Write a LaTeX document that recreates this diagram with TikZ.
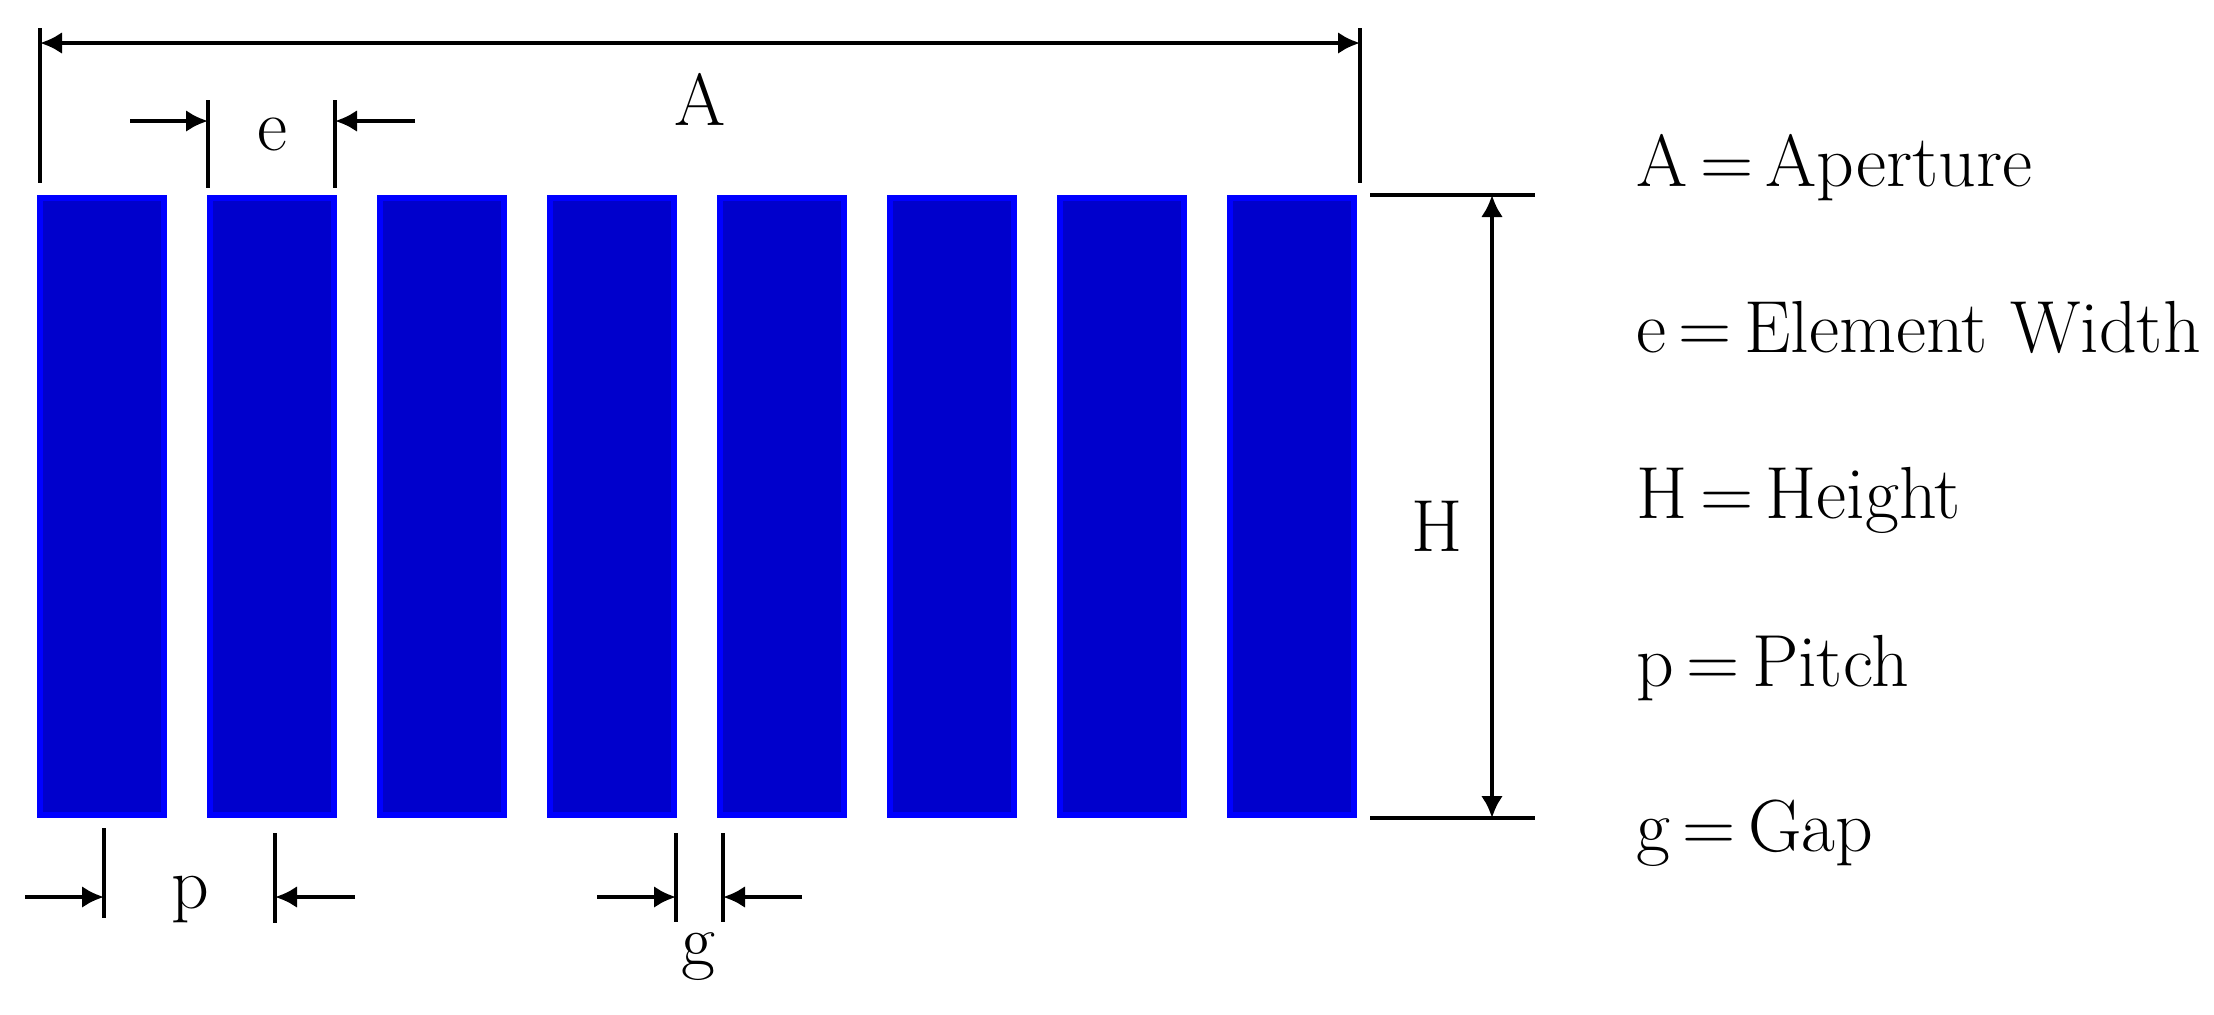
\documentclass[tikz,border=0pt]{standalone}
\usetikzlibrary{arrows.meta}
\definecolor{elemfill}{RGB}{0,0,204}
\definecolor{elemedge}{RGB}{0,0,255}
\tikzset{
  elem/.style={
    % The shape:
    shape=rectangle,inner sep=0pt,
    % The size:
    minimum width=1.24cm,minimum height=6.17cm,
    % The border and the filling:
    line width=0.6mm,draw=elemedge,fill=elemfill
  }}
\tikzset{
  ext/.style={line width=0.4mm},
  dim/.style={line width=0.45mm,-{Latex[length=2.2mm,width=2.2mm]}},
  dimboth/.style={line width=0.45mm,
    {Latex[length=2.2mm,width=2.2mm]}-{Latex[length=2.2mm,width=2.2mm]}},
  lbl/.style={inner sep=0pt,anchor=base,font=\fontsize{21}{25}\selectfont},
  keytext/.style={inner sep=0pt,anchor=base west,font=\fontsize{21}{25}\selectfont}}

\begin{document}
\begin{tikzpicture}[x=0.1mm,y=-0.1mm]
	\useasboundingbox (0,0) rectangle (2214,1014);
	% The elements
	\node[elem] (e1) at (102,506.5) {};
	\node[elem] (e2) at (272,506.5) {};
	\node[elem] (e3) at (442,506.5) {};
	\node[elem] (e4) at (612,506.5) {};
	\node[elem] (e5) at (782,506.5) {};
	\node[elem] (e6) at (952,506.5) {};
	\node[elem] (e7) at (1122,506.5) {};
	\node[elem] (e8) at (1292,506.5) {};
	% Aperture
	\coordinate (aT1) at (40,28);   \coordinate (aB1) at (40,183);
	\coordinate (aT2) at (1360,28); \coordinate (aB2) at (1360,183);
	\coordinate (aL) at (40,43);    \coordinate (aR) at (1360,43);
	\draw[ext] (aT1) -- (aB1);
	\draw[ext] (aT2) -- (aB2);
	\draw[dimboth] (aL) -- (aR);
	\node[lbl] (labA) at (700,125) {A};
	% Element width
	\coordinate (eT1) at (208,100); \coordinate (eB1) at (208,188);
	\coordinate (eT2) at (335,100); \coordinate (eB2) at (335,188);
	\coordinate (eO1) at (130,121); \coordinate (eI1) at (208,121);
	\coordinate (eO2) at (415,121); \coordinate (eI2) at (335,121);
	\draw[ext] (eT1) -- (eB1);
	\draw[ext] (eT2) -- (eB2);
	\draw[dim] (eO1) -- (eI1);
	\draw[dim] (eO2) -- (eI2);
	\node[lbl] (labe) at (272,150) {e};
	% Height
	\coordinate (hL1) at (1370,195); \coordinate (hR1) at (1535,195);
	\coordinate (hL2) at (1370,818); \coordinate (hR2) at (1535,818);
	\coordinate (hT) at (1492,195);  \coordinate (hB) at (1492,818);
	\draw[ext] (hL1) -- (hR1);
	\draw[ext] (hL2) -- (hR2);
	\draw[dimboth] (hT) -- (hB);
	\node[lbl] (labH) at (1437,551) {H};
	% Pitch
	\coordinate (pT1) at (104,828); \coordinate (pB1) at (104,918);
	\coordinate (pT2) at (275,833); \coordinate (pB2) at (275,923);
	\coordinate (pO1) at (25,897);  \coordinate (pI1) at (104,897);
	\coordinate (pO2) at (355,897); \coordinate (pI2) at (275,897);
	\draw[ext] (pT1) -- (pB1);
	\draw[ext] (pT2) -- (pB2);
	\draw[dim] (pO1) -- (pI1);
	\draw[dim] (pO2) -- (pI2);
	\node[lbl] (labp) at (190,908) {p};
	% Gap
	\coordinate (gT1) at (676,833); \coordinate (gB1) at (676,922);
	\coordinate (gT2) at (723,833); \coordinate (gB2) at (723,922);
	\coordinate (gO1) at (597,897); \coordinate (gI1) at (676,897);
	\coordinate (gO2) at (802,897); \coordinate (gI2) at (723,897);
	\draw[ext] (gT1) -- (gB1);
	\draw[ext] (gT2) -- (gB2);
	\draw[dim] (gO1) -- (gI1);
	\draw[dim] (gO2) -- (gI2);
	\node[lbl] (labg) at (698,965) {g};
	% Legend
	\node[keytext] (keyA) at (1636,186) {A\,=\,Aperture};
	\node[keytext] (keye) at (1636,352) {e\,=\,Element Width};
	\node[keytext] (keyH) at (1636,518) {H\,=\,Height};
	\node[keytext] (keyp) at (1636,686) {p\,=\,Pitch};
	\node[keytext] (keyg) at (1636,851) {g\,=\,Gap};
\end{tikzpicture}
\end{document}
